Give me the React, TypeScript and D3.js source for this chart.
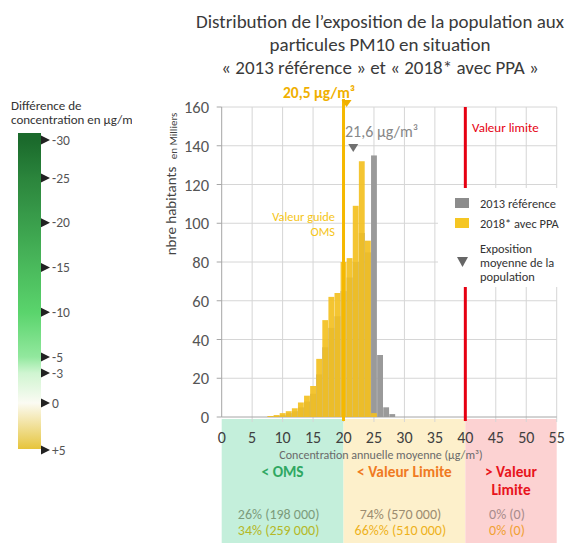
import React from 'react';
import * as d3 from 'd3';

// ---------- data ----------
const binCenters = [8, 9, 10, 11, 12, 13, 14, 15, 16, 17, 18, 19, 20, 21, 22, 23, 24, 25, 26, 27, 28];
const pop2013 = [0.3, 0.5, 1, 2, 3, 5, 8, 12, 22, 36, 46, 52, 65, 72, 80, 95, 85, 135, 32, 5, 1.5];
const pop2018 = [0.5, 1, 2, 3, 4.5, 7.5, 11, 16, 30, 50, 62, 64, 80, 82, 109, 132, 91, 2, 0, 0, 0];
const xTicks = [0, 5, 10, 15, 20, 25, 30, 35, 40, 45, 50, 55];
const yTicks = [0, 20, 40, 60, 80, 100, 120, 140, 160];
const meanLabels = ['20,5 µg/m³', '21,6 µg/m³'];
const mean2018 = 20.5;
const mean2013 = 21.6;
const omsGuide = 20;
const limitValue = 40;
const zoneBounds = [0, 20, 40, 55];
const zoneTitles = [['< OMS'], ['< Valeur Limite'], ['> Valeur', 'Limite']];
const share2013 = ['26% (198 000)', '74% (570 000)', '0% (0)'];
const share2018 = ['34% (259 000)', '66%% (510 000)', '0% (0)'];
const colorbarTicks = [-30, -25, -20, -15, -10, -5, -3, 0, 5];
const colorbarLabels = ['-30', '-25', '-20', '-15', '-10', '-5', '-3', '0', '+5'];
const titleLines = [
  'Distribution de l\u2019exposition de la population aux',
  'particules PM10 en situation',
  '\u00ab 2013 r\u00e9f\u00e9rence \u00bb et \u00ab 2018* avec PPA \u00bb',
];
const legendLabels = ['2013 r\u00e9f\u00e9rence', '2018* avec PPA'];

// ---------- styles ----------
const FONT = 'Carlito, Calibri, Lato, "Open Sans", sans-serif';
const zoneFill = ['#c4efdb', '#fdf0cb', '#fcd2d2'];
const zoneTitleColor = ['#2fa862', '#f07a22', '#e8141c'];
const share2013Color = ['#7c9c7c', '#9c8c70', '#a88c8c'];
const share2018Color = ['#b4b828', '#eeb21c', '#f0a032'];

export default function App() {
  const x = d3.scaleLinear().domain([0, 55]).range([221.7, 556.7]);
  const y = d3.scaleLinear().domain([0, 160]).range([417, 107]);

  const cbY = d3.scaleLinear().domain([-30, -25, -5, -3, 0, 5]).range([140, 178, 357, 373, 403, 450]);
  const cbColor = d3
    .scaleLinear<string>()
    .domain([-30, -20, -10, -5, -3, 0, 5])
    .range(['#1b6a2c', '#3a9f4c', '#5ad46c', '#92e89e', '#cff5d1', '#fbfbf3', '#e6c43a']);
  const cbTop = 133;
  const cbBottom = 449;
  const gradValues = d3.range(-30, 5.01, 1);

  const barHalf = 0.48;
  const tri = (cx: number, cy: number, w: number, h: number) =>
    `M${cx - w / 2},${cy} L${cx + w / 2},${cy} L${cx},${cy + h} Z`;

  return (
    <svg width={568} height={543} style={{ position: 'absolute', left: 0, top: 0, background: '#fff' }} fontFamily={FONT}>
      <defs>
        <linearGradient id="cbGrad" x1="0" y1="0" x2="0" y2="1">
          {gradValues.map((v) => (
            <stop key={v} offset={Math.max(0, Math.min(1, (cbY(v) - cbTop) / (cbBottom - cbTop)))} stopColor={cbColor(v)} />
          ))}
        </linearGradient>
        <clipPath id="cbTitleClip">
          <rect x={0} y={90} width={132} height={50} />
        </clipPath>
      </defs>

      {/* title */}
      {titleLines.map((t, i) => (
        <text key={i} x={380} y={[28, 51, 74][i]} textAnchor="middle" fontSize={19} fill="#3a3a3a">
          {t}
        </text>
      ))}

      {/* left color legend */}
      <g clipPath="url(#cbTitleClip)">
        <text x={11} y={110} fontSize={13} fill="#333">Différence de</text>
        <text x={11} y={124} fontSize={13} fill="#333">concentration en µg/m³</text>
      </g>
      <rect x={18} y={cbTop} width={23} height={cbBottom - cbTop} fill="url(#cbGrad)" />
      {colorbarTicks.map((v, i) => (
        <g key={v}>
          <path d={`M41,${cbY(v) - 4.5} L50,${cbY(v)} L41,${cbY(v) + 4.5} Z`} fill="#222" />
          <text x={52} y={cbY(v)} dominantBaseline="central" fontSize={13.5} fill="#555">
            {colorbarLabels[i]}
          </text>
        </g>
      ))}

      {/* zone bands below axis */}
      {zoneFill.map((c, i) => (
        <rect key={i} x={x(zoneBounds[i])} y={419} width={x(zoneBounds[i + 1]) - x(zoneBounds[i])} height={124} fill={c} />
      ))}

      {/* grid */}
      {yTicks.slice(1).map((t) => (
        <line key={t} x1={x(0)} x2={x(55)} y1={y(t)} y2={y(t)} stroke="#d6d6d6" strokeWidth={1} />
      ))}
      {xTicks.slice(1).map((t) => (
        <line key={t} x1={x(t)} x2={x(t)} y1={y(160)} y2={y(0) + 5} stroke="#d6d6d6" strokeWidth={1} />
      ))}

      {/* axes */}
      <line x1={x(0)} x2={x(0)} y1={y(160)} y2={y(0)} stroke="#a6a6a6" />
      <line x1={x(0)} x2={x(55)} y1={y(0)} y2={y(0)} stroke="#a6a6a6" />
      {yTicks.map((t) => (
        <g key={t}>
          <line x1={x(0) - 5} x2={x(0)} y1={y(t)} y2={y(t)} stroke="#a6a6a6" />
          <text x={209} y={y(t)} textAnchor="end" dominantBaseline="central" fontSize={16.5} fill="#555">
            {t}
          </text>
        </g>
      ))}
      {xTicks.map((t) => (
        <text key={t} x={x(t)} y={437} textAnchor="middle" dominantBaseline="central" fontSize={16} fill="#404040">
          {t}
        </text>
      ))}
      <text x={381} y={455} textAnchor="middle" dominantBaseline="central" fontSize={12} fill="#6a6a6a">
        Concentration annuelle moyenne (µg/m³)
      </text>

      {/* y axis title */}
      <text transform="translate(171,211) rotate(-90)" textAnchor="middle" dominantBaseline="central" fontSize={15} fill="#444">
        nbre habitants
      </text>
      <text transform="translate(173,136) rotate(-90)" textAnchor="middle" dominantBaseline="central" fontSize={11} fill="#444">
        en Milliers
      </text>

      {/* bars 2013 */}
      {binCenters.map((k, i) =>
        pop2013[i] > 0 ? (
          <rect key={'g' + k} x={x(k - barHalf)} y={y(pop2013[i])} width={x(k + barHalf) - x(k - barHalf)} height={y(0) - y(pop2013[i])} fill="#9a9a9a" />
        ) : null
      )}
      {/* bars 2018 */}
      {binCenters.map((k, i) =>
        pop2018[i] > 0 ? (
          <rect key={'y' + k} x={x(k - barHalf)} y={y(pop2018[i])} width={x(k + barHalf) - x(k - barHalf)} height={y(0) - y(pop2018[i])} fill="#f3c021" fillOpacity={0.92} />
        ) : null
      )}

      {/* reference lines */}
      <line x1={x(omsGuide)} x2={x(omsGuide)} y1={99} y2={421} stroke="#f5b800" strokeWidth={3} />
      <line x1={x(limitValue)} x2={x(limitValue)} y1={y(160)} y2={421} stroke="#e60012" strokeWidth={3} />

      {/* mean markers */}
      <path d={tri(x(mean2018), 100, 10, 7)} fill="#f0b000" />
      <text x={319} y={92} textAnchor="middle" dominantBaseline="central" fontSize={15.5} fontWeight="bold" fill="#f0b000">
        {meanLabels[0]}
      </text>
      <path d={tri(x(mean2013), 144, 10, 8)} fill="#707070" />
      <text x={345} y={131} dominantBaseline="central" fontSize={16} fill="#888">
        {meanLabels[1]}
      </text>

      {/* annotations */}
      <text x={472} y={127} dominantBaseline="central" fontSize={13} fill="#e60012">Valeur limite</text>
      <text x={335} y={216} textAnchor="end" dominantBaseline="central" fontSize={12.4} fill="#f5c518">Valeur guide</text>
      <text x={335} y={231} textAnchor="end" dominantBaseline="central" fontSize={12.4} fill="#f5c518">OMS</text>

      {/* legend */}
      <rect x={438} y={188} width={122} height={99} fill="#fff" />
      <rect x={455} y={198} width={14} height={10} fill="#8c8c8c" />
      <text x={480} y={203} dominantBaseline="central" fontSize={12.4} fill="#333">{legendLabels[0]}</text>
      <rect x={455} y={218} width={14} height={10} fill="#f5c623" />
      <text x={480} y={223} dominantBaseline="central" fontSize={12.4} fill="#333">{legendLabels[1]}</text>
      <path d={tri(462.5, 257, 11, 10)} fill="#666" />
      <text x={480} y={248} dominantBaseline="central" fontSize={12.4} fill="#333">Exposition</text>
      <text x={480} y={262} dominantBaseline="central" fontSize={12.4} fill="#333">moyenne de la</text>
      <text x={480} y={276.5} dominantBaseline="central" fontSize={12.4} fill="#333">population</text>

      {/* zone texts */}
      {zoneTitles.map((lines, i) => {
        const cx = (x(zoneBounds[i]) + x(zoneBounds[i + 1])) / 2;
        return (
          <g key={i}>
            {lines.map((l, j) => (
              <text key={j} x={cx} y={471 + j * 18} textAnchor="middle" dominantBaseline="central" fontSize={15.3} fontWeight="bold" fill={zoneTitleColor[i]}>
                {l}
              </text>
            ))}
            <text x={cx - 4} y={514} textAnchor="middle" dominantBaseline="central" fontSize={14} fill={share2013Color[i]}>
              {share2013[i]}
            </text>
            <text x={cx - 4} y={530} textAnchor="middle" dominantBaseline="central" fontSize={14} fill={share2018Color[i]}>
              {share2018[i]}
            </text>
          </g>
        );
      })}
    </svg>
  );
}
